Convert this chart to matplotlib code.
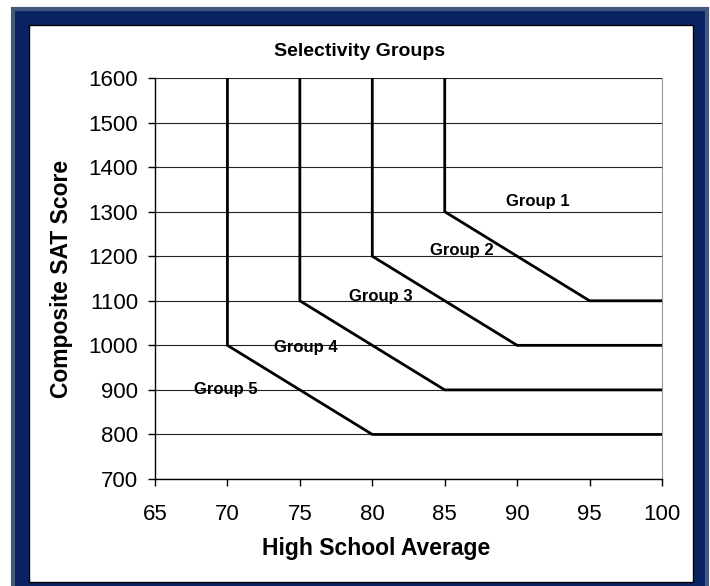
import matplotlib.pyplot as plt
from matplotlib.patches import Rectangle

plt.rcParams['font.family'] = ['Liberation Sans', 'DejaVu Sans']

# boundary lines for each group split (x = HS average, y = SAT)
bound_1_x = [85, 85, 95, 100]
bound_1_y = [1600, 1300, 1100, 1100]
bound_2_x = [80, 80, 90, 100]
bound_2_y = [1600, 1200, 1000, 1000]
bound_3_x = [75, 75, 85, 100]
bound_3_y = [1600, 1100, 900, 900]
bound_4_x = [70, 70, 80, 100]
bound_4_y = [1600, 1000, 800, 800]

group_names = ['Group 1', 'Group 2', 'Group 3', 'Group 4', 'Group 5']
label_x = [91.4, 86.2, 80.6, 75.4, 69.9]
label_y = [1322, 1212, 1109, 996, 900]

W, H = 710, 586
fig = plt.figure(figsize=(7.1, 5.86), dpi=100)

# navy frame around the chart
fig.patches.append(Rectangle((13 / W, -0.05), 694 / W, (586 - 9) / H + 0.05,
                             transform=fig.transFigure, facecolor='#0b2262',
                             edgecolor='#42597d', linewidth=3, zorder=-2))
fig.patches.append(Rectangle((29 / W, (586 - 582) / H), 664 / W, 557 / H,
                             transform=fig.transFigure, facecolor='white',
                             edgecolor='black', linewidth=1, zorder=-1))

ax = fig.add_axes([155 / W, (586 - 479) / H, 507 / W, 401 / H])
ax.set_facecolor('none')

for xs, ys in [(bound_1_x, bound_1_y), (bound_2_x, bound_2_y),
               (bound_3_x, bound_3_y), (bound_4_x, bound_4_y)]:
    ax.plot(xs, ys, color='black', linewidth=2, solid_joinstyle='miter', zorder=3)

for name, x, y in zip(group_names, label_x, label_y):
    ax.text(x, y, name, fontsize=12, fontweight='bold', ha='center', va='center', zorder=4)

ax.set_xlim(65, 100)
ax.set_ylim(700, 1600)
ax.set_xticks(range(65, 101, 5))
ax.set_yticks(range(700, 1601, 100))
ax.yaxis.grid(True, color='#222222', linewidth=0.8)
ax.set_axisbelow(True)
ax.tick_params(labelsize=16, length=5, width=1, direction='out')
ax.tick_params(axis='y', pad=7)
ax.tick_params(axis='x', pad=13)
ax.spines['top'].set_visible(False)
ax.spines['right'].set_color('#999999')
ax.spines['left'].set_linewidth(1)
ax.spines['bottom'].set_linewidth(1)

ax.set_xlabel('High School Average', fontsize=16.5, fontweight='bold', va='center')
ax.set_ylabel('Composite SAT Score', fontsize=16.5, fontweight='bold', va='center')
ax.xaxis.set_label_coords((376 - 155) / 507, (479 - 549) / 401)
ax.yaxis.set_label_coords((62 - 155) / 507, 0.5)
fig.text(360 / W, 1 - 52 / H, 'Selectivity Groups', fontsize=14, fontweight='bold',
         ha='center', va='center')

fig.savefig('out.png', dpi=100)
